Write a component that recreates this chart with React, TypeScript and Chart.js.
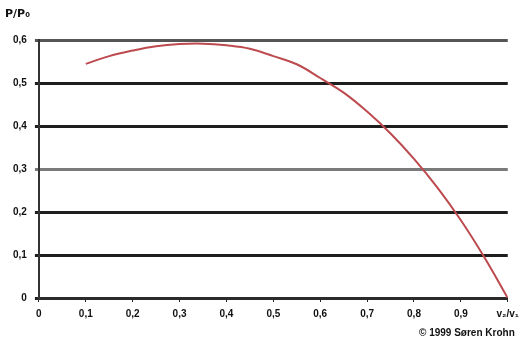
import React, { useEffect, useRef } from "react";
import { Chart, registerables } from "chart.js";
Chart.register(...registerables);

const ratioV: number[] = [0.1, 0.15, 0.2, 0.25, 0.3, 0.35, 0.4, 0.45, 0.5, 0.55, 0.6, 0.65, 0.7, 0.75, 0.8, 0.85, 0.9, 0.95, 1.0];
const powerRatio: number[] = [0.545, 0.563, 0.576, 0.586, 0.591, 0.592, 0.588, 0.58, 0.563, 0.544, 0.512, 0.478, 0.434, 0.383, 0.324, 0.257, 0.181, 0.095, 0.0];
const xTickLabels: string[] = ["0", "0,1", "0,2", "0,3", "0,4", "0,5", "0,6", "0,7", "0,8", "0,9", "v₂/v₁"];
const yTickLabels: string[] = ["0", "0,1", "0,2", "0,3", "0,4", "0,5", "0,6"];
const yTitle = "P/P₀";
const credit = "© 1999 Søren Krohn";

const creditPlugin = {
  id: "credit",
  afterDraw(chart: any) {
    const { ctx, chartArea, height } = chart;
    ctx.save();
    ctx.font = "bold 10px 'Liberation Sans', Arial, sans-serif";
    ctx.fillStyle = "#111";
    ctx.textAlign = "right";
    ctx.textBaseline = "middle";
    ctx.fillText(credit, chartArea.right + 7, height - 9);
    ctx.restore();
  },
};

export default function App() {
  const ref = useRef<HTMLCanvasElement>(null);
  useEffect(() => {
    if (!ref.current) return;
    const font = { family: "'Liberation Sans', Arial, sans-serif", size: 10, weight: "bold" as const };
    const chart = new Chart(ref.current, {
      type: "line",
      data: {
        datasets: [
          {
            data: ratioV.map((x, i) => ({ x, y: powerRatio[i] })),
            borderColor: "#bc4a4e",
            borderWidth: 2,
            pointRadius: 0,
            tension: 0.4,
            fill: false,
          },
        ],
      },
      plugins: [creditPlugin],
      options: {
        animation: false,
        responsive: false,
        maintainAspectRatio: false,
        layout: { padding: { left: 5, right: 1, top: 0, bottom: 16 } },
        plugins: {
          legend: { display: false },
          tooltip: { enabled: false },
          title: {
            display: true,
            text: yTitle,
            align: "start",
            color: "#111",
            font: { family: "'DejaVu Sans', sans-serif", size: 11, weight: "bold" },
            padding: { top: 8, bottom: 19 },
          },
        },
        scales: {
          x: {
            type: "linear",
            min: 0,
            max: 1,
            ticks: {
              stepSize: 0.1,
              color: "#111",
              font,
              padding: 6,
              maxRotation: 0,
              autoSkip: false,
              callback: (v: any) => xTickLabels[Math.round(Number(v) * 10)] ?? "",
            },
            grid: { drawOnChartArea: false, drawTicks: true, tickLength: 4, color: "#222", lineWidth: 1 },
            border: { display: true, color: "#2a2a2a", width: 3 },
          },
          y: {
            type: "linear",
            min: 0,
            max: 0.6,
            ticks: {
              stepSize: 0.1,
              color: "#111",
              font,
              padding: 8,
              callback: (v: any) => yTickLabels[Math.round(Number(v) * 10)] ?? "",
            },
            grid: {
              drawTicks: true,
              tickLength: 4,
              lineWidth: 3,
              color: (ctx: any) => {
                const v = Math.round((ctx.tick?.value ?? 0) * 10);
                if (v === 3) return "#7a7a7a";
                if (v === 6) return "#555555";
                return "#1e1e1e";
              },
            },
            border: { display: true, color: "#333", width: 2 },
          },
        },
      },
    });
    return () => chart.destroy();
  }, []);
  return (
    <div style={{ position: "absolute", left: 0, top: 0, width: 525, height: 342, background: "#fff" }}>
      <canvas ref={ref} width={525} height={342} />
    </div>
  );
}
